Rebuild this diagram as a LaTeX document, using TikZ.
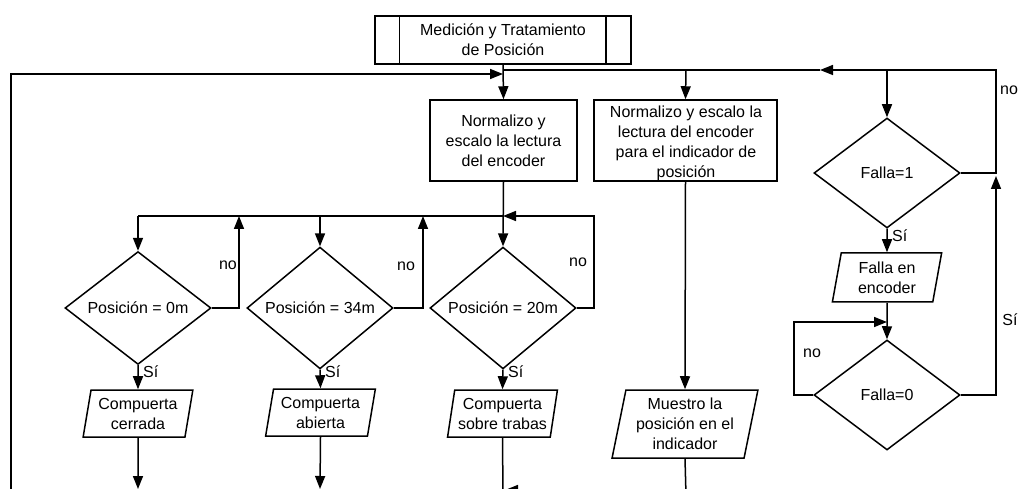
\documentclass[tikz,border=0pt]{standalone}
\usepackage{fontspec}
\setmainfont{Liberation Sans}
\usetikzlibrary{shapes.geometric,arrows.meta}

\tikzset{
  every node/.style={font=\fontsize{16}{20}\selectfont, inner sep=0pt},
  box/.style={draw, line width=1.5pt, rectangle, align=center},
  decision/.style={draw, line width=1.5pt, diamond, minimum width=146pt, minimum height=110pt, align=center},
  io/.style={draw, line width=1.5pt, trapezium, trapezium left angle=78, trapezium right angle=102,
    trapezium stretches=true, align=center},
  lbl/.style={font=\fontsize{16}{18}\selectfont},
  wire/.style={line width=1.5pt},
  arr/.style={line width=1.5pt, -{Triangle[length=13pt,width=10pt]}},
}

\begin{document}
\begin{tikzpicture}[x=1pt,y=-1pt]
  \useasboundingbox (0,0) rectangle (1021,489);

  % predefined process
  \node[box, minimum width=256pt, minimum height=48pt] (sub) at (503,40)
    {Medición y Tratamiento\\de Posición};
  \draw[wire] ([xshift=25pt]sub.north west) -- ([xshift=25pt]sub.south west);
  \draw[wire] ([xshift=-26pt]sub.north east) -- ([xshift=-26pt]sub.south east);

  % processing boxes
  \node[box, minimum width=147pt, minimum height=81pt] (norm) at (503.5,140.5)
    {Normalizo y\\escalo la lectura\\del encoder};
  \node[box, minimum width=183pt, minimum height=81pt] (normind) at (685.5,140.5) {};
  \node[align=center] (normtxt) at (686,143)
    {Normalizo y escalo la\\lectura del encoder\\para el indicador de\\posición};

  % position checks
  \node[decision] (d1) at (138,308) {Posición = 0m};
  \node[decision] (d2) at (320,308) {Posición = 34m};
  \node[decision] (d3) at (503,308) {Posición = 20m};

  \node[io, minimum width=110pt, minimum height=47pt] (p1) at (138,413.5) {Compuerta\\cerrada};
  \node[io, minimum width=110pt, minimum height=47pt] (p2) at (320.5,412.5) {Compuerta\\abierta};
  \node[io, minimum width=110pt, minimum height=47pt] (p3) at (502.5,413.5) {Compuerta\\sobre trabas};

  \node[io, trapezium left angle=77.5, trapezium right angle=102.5,
        minimum width=146pt, minimum height=68pt] (show) at (685,424)
    {Muestro la\\posición en el\\indicador};

  % fault handling
  \node[decision] (f1) at (887,173) {Falla=1};
  \node[io, trapezium left angle=80, trapezium right angle=100,
        minimum width=110pt, minimum height=49pt] (fe) at (887,277.5) {Falla en\\encoder};
  \node[decision] (f0) at (887,395) {Falla=0};

  % junction coordinates
  \coordinate (jl) at (503,74);
  \coordinate (jr) at (503,70);
  \coordinate (cornerL) at (11,74);
  \coordinate (feedL) at (11,489);
  \coordinate (cornerR) at (996,70);
  \coordinate (midR) at (820,70);
  \coordinate (topInd) at (686,70);
  \coordinate (topF1) at (887,70);
  \coordinate (split) at (503,216);
  \coordinate (s1) at (138,216);
  \coordinate (s2) at (320,216);
  \coordinate (n1) at (239,216);
  \coordinate (n2) at (423,216);
  \coordinate (n3c) at (594,216);
  \coordinate (f1r) at (996,173);
  \coordinate (f1up) at (996,176);
  \coordinate (f0r) at (996,395);
  \coordinate (f0l) at (794,395);
  \coordinate (f0lt) at (794,322);
  \coordinate (f0in) at (887,322);
  \coordinate (o1) at (138,489);
  \coordinate (o2) at (320,489);
  \coordinate (o3) at (503,495);
  \coordinate (o3in) at (505,490);
  \coordinate (o3src) at (560,490);
  \coordinate (o4) at (686,495);

  % main loop
  \draw[arr] (feedL) -- (cornerL) -- (jl);
  \draw[arr] (sub.south) -- (norm.north);
  \draw[arr] (f1.east) -- (f1r) -- (cornerR) -- (midR);
  \draw[wire] (midR) -- (jr);
  \draw[arr] (topInd) -- (normind.north);
  \draw[arr] (topF1) -- (f1.north);
  \node[lbl, anchor=west] (lno) at (1000,90) {no};

  % position branch
  \draw[arr] (norm.south) -- (d3.north);
  \draw[wire] (split) -- (s1);
  \draw[arr] (s1) -- (d1.north);
  \draw[arr] (s2) -- (d2.north);
  \draw[arr] (d1.east) -| (n1);
  \draw[arr] (d2.east) -| (n2);
  \draw[arr] (d3.east) -| (n3c) -- (split);
  \node[lbl] (no1) at (228,265) {no};
  \node[lbl] (no2) at (406,266) {no};
  \node[lbl] (no3) at (578,262) {no};

  \draw[arr] (d1.south) -- (p1.north);
  \draw[arr] (d2.south) -- (p2.north);
  \draw[arr] (d3.south) -- (p3.north);
  \node[lbl, anchor=west] (si1) at (143,372) {Sí};
  \node[lbl, anchor=west] (si2) at (325,372) {Sí};
  \node[lbl, anchor=west] (si3) at (508,372) {Sí};

  \draw[arr] (p1.south) -- (o1);
  \draw[arr] (p2.south) -- (o2);
  \draw[wire] (p3.south) -- (o3);
  \draw[arr] (o3src) -- (o3in);

  % indicator branch
  \draw[arr] (normind.south) -- (show.north);
  \draw[wire] (show.south) -- (o4);

  % fault branch
  \draw[arr] (f1.south) -- (fe.north);
  \node[lbl, anchor=west] (si4) at (892,236) {Sí};
  \draw[arr] (fe.south) -- (f0.north);
  \draw[arr] (f0.west) -- (f0l) -- (f0lt) -- (f0in);
  \node[lbl] (no5) at (812,353) {no};
  \draw[arr] (f0.east) -- (f0r) -- (f1up);
  \node[lbl] (si5) at (1010,320) {Sí};
\end{tikzpicture}
\end{document}
